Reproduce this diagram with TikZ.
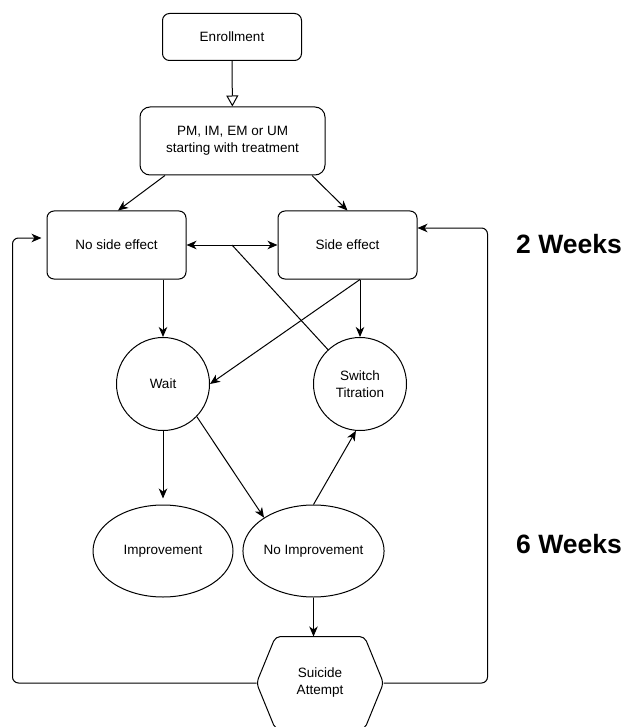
\documentclass[tikz,border=0pt]{standalone}
\usepackage{fontspec}
\setmainfont{Liberation Sans}
\usetikzlibrary{arrows.meta,shapes.geometric,calc}
\begin{document}
\begin{tikzpicture}[x=1pt,y=-1pt,
  line width=1pt,
  txt/.style={font=\fontsize{13.5}{17}\selectfont, align=center, inner sep=0pt},
  box/.style={txt, draw, rounded corners=7pt, minimum width=139pt, minimum height=68pt},
  circ/.style={txt, draw, circle, minimum size=93pt},
  ell/.style={txt, draw, ellipse, minimum width=140pt, minimum height=92pt},
  arr/.style={-{Stealth[length=10pt,width=8.5pt,inset=3pt]}},
  darr/.style={{Stealth[length=10pt,width=8.5pt,inset=3pt]}-{Stealth[length=10pt,width=8.5pt,inset=3pt]}},
  oarr/.style={-{Triangle[open,length=11pt,width=12pt]}},
  week/.style={font=\bfseries\fontsize{26.5}{30}\selectfont, inner sep=0pt}
]
\useasboundingbox[fill=white] (0,0) rectangle (626,727);

\node[box, minimum height=47pt] (enr) at (232,37) {Enrollment};
\node[box, minimum width=185pt, rounded corners=10pt] (pm) at (232.5,141) {PM, IM, EM or UM\\starting with treatment};
\node[box] (nse) at (116.5,245) {No side effect};
\node[box] (se) at (347.5,245) {Side effect};
\node[circ] (wait) at (163,384) {Wait};
\node[circ] (sw) at (360,384) {Switch\\Titration};
\node[ell] (imp) at (163,551) {Improvement};
\node[ell] (noimp) at (313.5,551) {No Improvement};
\node[txt, minimum width=126pt, minimum height=92pt] (sa) at (320,683) {Suicide\\Attempt};
\draw[rounded corners=5pt]
  ($(sa.north west)+(19,0)$) -- ($(sa.north east)+(-19,0)$) -- (sa.east)
  -- ($(sa.south east)+(-19,0)$) -- ($(sa.south west)+(19,0)$) -- (sa.west) -- cycle;

\node[week] (w2) at (569,244) {2 Weeks};
\node[week] (w6) at (569,544) {6 Weeks};

\draw[oarr] (enr) -- (pm);
\draw[arr] ($(pm.south)+(-67.5,0)$) -- ($(nse.north)+(1.5,0)$);
\draw[arr] ($(pm.south)+(79.5,0)$) -- (se.north);
\draw[darr] (nse.east) -- (se.west);
\coordinate (mid) at ($(nse.east)!0.5!(se.west)$);
\draw (mid) -- (sw.133);
\draw[arr] (wait.north |- nse.south) -- (wait.north);
\draw[arr] (sw.north |- se.south) -- (sw.north);
\draw[arr] (sw.north |- se.south) -- (wait.east);
\draw[arr, shorten >=6pt] (wait.south) -- (imp.north);
\draw[arr] (wait.-44) -- (noimp.146);
\draw[arr] (noimp.north) -- (sw.-95);
\draw[arr] (noimp.south) -- (noimp.south |- sa.north);
\draw[arr, rounded corners=6pt, shorten >=5pt] (sa.west) -- ++(-244,0) |- ($(nse.west)+(0,-7)$);
\draw[arr, rounded corners=6pt] (sa.east) -- ++(104,0) |- ($(se.east)+(0,-17)$);
\end{tikzpicture}
\end{document}
